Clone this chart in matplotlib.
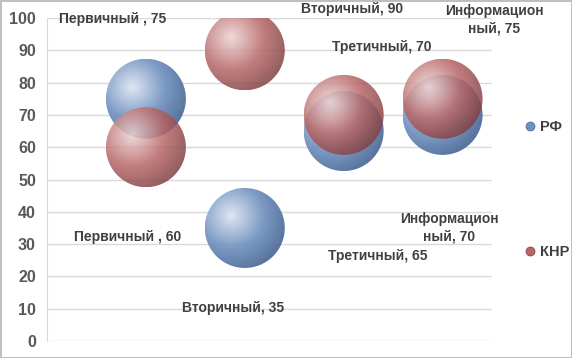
import matplotlib
matplotlib.use('Agg')
import matplotlib.pyplot as plt
import numpy as np
from matplotlib.patches import Ellipse
from matplotlib.lines import Line2D

# Data
sectors = ['Первичный ', 'Вторичный', 'Третичный', 'Информацион\nный']
x_pos = [1, 2, 3, 4]
rf_values = [75, 35, 65, 70]
knr_values = [60, 90, 70, 75]
series_names = ['РФ', 'КНР']

# label offsets in pixels (dx, dy) relative to bubble centre
rf_offsets = [(-33, 80), (-12, -80), (34, -125), (7, -113)]
knr_offsets = [(-18, -90), (107, 41), (38, 68), (52, 79)]

COLORS = {
    'РФ': {'light': (0.87, 0.90, 0.95), 'base': (0.44, 0.57, 0.75), 'dark': (0.28, 0.40, 0.58)},
    'КНР': {'light': (0.93, 0.83, 0.83), 'base': (0.72, 0.40, 0.40), 'dark': (0.50, 0.25, 0.26)},
}
TEXT = '#404040'
GRID = '#d9d9d9'
plt.rcParams['font.family'] = ['Liberation Sans', 'DejaVu Sans']

W, H, DPI = 572, 358, 100
fig = plt.figure(figsize=(W / DPI, H / DPI), dpi=DPI)
fig.patch.set_edgecolor('#bfbfbf')
fig.patch.set_linewidth(1.0)

left, right, top, bottom = 47, 492, 18, 341
ax = fig.add_axes([left / W, (H - bottom) / H, (right - left) / W, (bottom - top) / H])
ax.set_xlim(0, 4.5)
ax.set_ylim(0, 100)
ax.set_yticks(np.arange(0, 101, 10))
ax.set_xticks([])
ax.yaxis.grid(True, color=GRID, linewidth=1)
ax.set_axisbelow(True)
for s in ['top', 'right', 'bottom']:
    ax.spines[s].set_visible(False)
ax.spines['left'].set_color(GRID)
ax.tick_params(axis='y', length=0, pad=8, labelsize=11.5, labelcolor='#595959')
for lbl in ax.get_yticklabels():
    lbl.set_fontweight('bold')

R_PX = 40
px_x = 4.5 / (right - left)
px_y = 100 / (bottom - top)
rx, ry = R_PX * px_x, R_PX * px_y


def sphere_image(c, n=200):
    u = np.linspace(-1, 1, n)
    uu, vv = np.meshgrid(u, u[::-1])
    hu, hv = -0.35, 0.3
    d = np.sqrt((uu - hu) ** 2 + (vv - hv) ** 2) / 1.45
    d = np.clip(d, 0, 1)
    light, base, dark = [np.array(c[k]) for k in ('light', 'base', 'dark')]
    t1 = np.clip(d / 0.55, 0, 1)[..., None]
    t2 = np.clip((d - 0.55) / 0.45, 0, 1)[..., None]
    col = light * (1 - t1) + base * t1
    col = col * (1 - t2) + dark * t2
    return col


def draw_bubbles(xs, ys, name, alpha):
    img = sphere_image(COLORS[name])
    for x, y in zip(xs, ys):
        clip = Ellipse((x, y), 2 * rx, 2 * ry, transform=ax.transData, facecolor='none', edgecolor='none')
        ax.add_patch(clip)
        im = ax.imshow(img, extent=(x - rx, x + rx, y - ry, y + ry), aspect='auto',
                       alpha=alpha, zorder=3, interpolation='bilinear')
        im.set_clip_path(clip)


draw_bubbles(x_pos, rf_values, 'РФ', 0.92)
draw_bubbles(x_pos, knr_values, 'КНР', 0.85)
ax.set_xlim(0, 4.5)
ax.set_ylim(0, 100)

for vals, offs in [(rf_values, rf_offsets), (knr_values, knr_offsets)]:
    for x, v, name, (dx, dy) in zip(x_pos, vals, sectors, offs):
        ax.annotate(f'{name}, {v}', xy=(x, v), xytext=(dx, dy), textcoords='offset pixels',
                    ha='center', va='center', fontsize=10, fontweight='bold', color=TEXT,
                    zorder=5, annotation_clip=False, linespacing=1.3)

handles = [Line2D([], [], marker='o', linestyle='none', markersize=6.5,
                  markerfacecolor=COLORS[n]['base'], markeredgecolor=COLORS[n]['dark'],
                  markeredgewidth=0.5) for n in series_names]
leg = fig.legend(handles, series_names, loc='center left', bbox_to_anchor=(508 / W, 0.47),
                 frameon=False, labelspacing=7.6, handletextpad=0.1, handlelength=1.2,
                 prop={'weight': 'bold', 'size': 10.5})
for t in leg.get_texts():
    t.set_color(TEXT)

fig.savefig('out.png', dpi=DPI)
